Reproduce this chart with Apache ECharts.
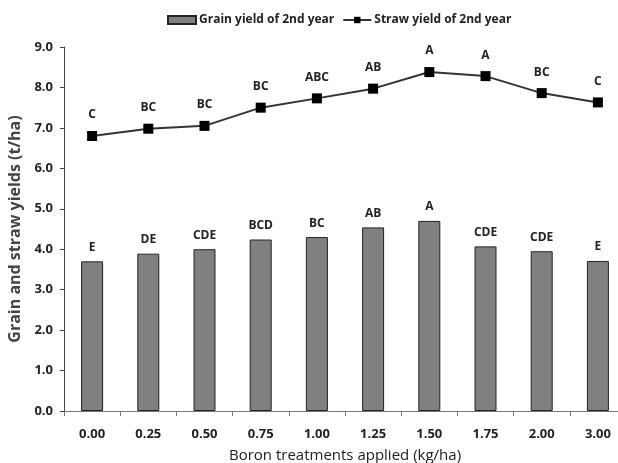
<!DOCTYPE html>
<html>
<head>
<meta charset="utf-8">
<script src="https://cdn.jsdelivr.net/npm/echarts@6/dist/echarts.min.js"></script>
<style>
  html, body { margin: 0; padding: 0; background: #fff; }
  #chart { width: 618px; height: 463px; }
</style>
</head>
<body>
<div id="chart"></div>
<script>
// boron rates (kg/ha)
var categories = ['0.00', '0.25', '0.50', '0.75', '1.00', '1.25', '1.50', '1.75', '2.00', '3.00'];
// grain yield, 2nd year (t/ha)
var grainYield = [3.70, 3.89, 4.00, 4.24, 4.30, 4.54, 4.70, 4.07, 3.95, 3.71];
var grainLetters = ['E', 'DE', 'CDE', 'BCD', 'BC', 'AB', 'A', 'CDE', 'CDE', 'E'];
// straw yield, 2nd year (t/ha)
var strawYield = [6.80, 6.98, 7.05, 7.50, 7.73, 7.97, 8.38, 8.28, 7.86, 7.63];
var strawLetters = ['C', 'BC', 'BC', 'BC', 'ABC', 'AB', 'A', 'A', 'BC', 'C'];

var font = 'Open Sans';

var chart = echarts.init(document.getElementById('chart'));

var option = {
    backgroundColor: '#fff',
    animation: false,
    textStyle: { fontFamily: font },
    legend: {
        top: 9,
        left: 162,
        itemGap: 8,
        itemWidth: 28,
        itemHeight: 8,
        textStyle: { fontFamily: font, fontSize: 12, fontWeight: 'bold', color: '#222', padding: [0, 0, 0, -2] },
        data: [
            { name: 'Grain yield of 2nd year', icon: 'rect' },
            { name: 'Straw yield of 2nd year' }
        ]
    },
    grid: {
        left: 64,
        right: -8,
        top: 47,
        bottom: 52,
        outerBoundsMode: 'none'
    },
    xAxis: {
        type: 'category',
        data: categories,
        name: 'Boron treatments applied (kg/ha)',
        nameLocation: 'middle',
        nameGap: 37,
        nameTextStyle: { fontFamily: font, fontSize: 15, color: '#222' },
        axisLine: { lineStyle: { color: '#777', width: 1 } },
        axisTick: { show: true, length: 5, lineStyle: { color: '#777' } },
        axisLabel: { margin: 17, fontFamily: font, fontSize: 13, fontWeight: 'bold', color: '#222' }
    },
    yAxis: {
        type: 'value',
        min: 0,
        max: 9,
        interval: 1,
        name: 'Grain and straw yields (t/ha)',
        nameLocation: 'middle',
        nameGap: 37,
        nameTextStyle: { fontFamily: font, fontSize: 16, fontWeight: 'bold', color: '#444' },
        axisLine: { show: true, lineStyle: { color: '#444', width: 1 } },
        axisTick: { show: true, length: 4, lineStyle: { color: '#444' } },
        splitLine: { show: false },
        axisLabel: {
            margin: 11,
            fontFamily: font,
            fontSize: 13,
            fontWeight: 'bold',
            color: '#222',
            formatter: function (v) { return v.toFixed(1); }
        }
    },
    series: [
        {
            name: 'Grain yield of 2nd year',
            type: 'bar',
            barWidth: 22,
            data: grainYield,
            itemStyle: { color: '#808080', borderColor: '#222', borderWidth: 1 },
            label: {
                show: true,
                position: 'top',
                distance: 8,
                fontFamily: font,
                fontSize: 12,
                fontWeight: 'bold',
                color: '#222',
                formatter: function (p) { return grainLetters[p.dataIndex]; }
            }
        },
        {
            name: 'Straw yield of 2nd year',
            type: 'line',
            data: strawYield,
            symbol: 'rect',
            symbolSize: 10,
            lineStyle: { color: '#333', width: 2 },
            itemStyle: { color: '#000' },
            label: {
                show: true,
                position: 'top',
                distance: 10,
                fontFamily: font,
                fontSize: 12,
                fontWeight: 'bold',
                color: '#222',
                formatter: function (p) { return strawLetters[p.dataIndex]; }
            }
        }
    ]
};

chart.setOption(option);
</script>
</body>
</html>
